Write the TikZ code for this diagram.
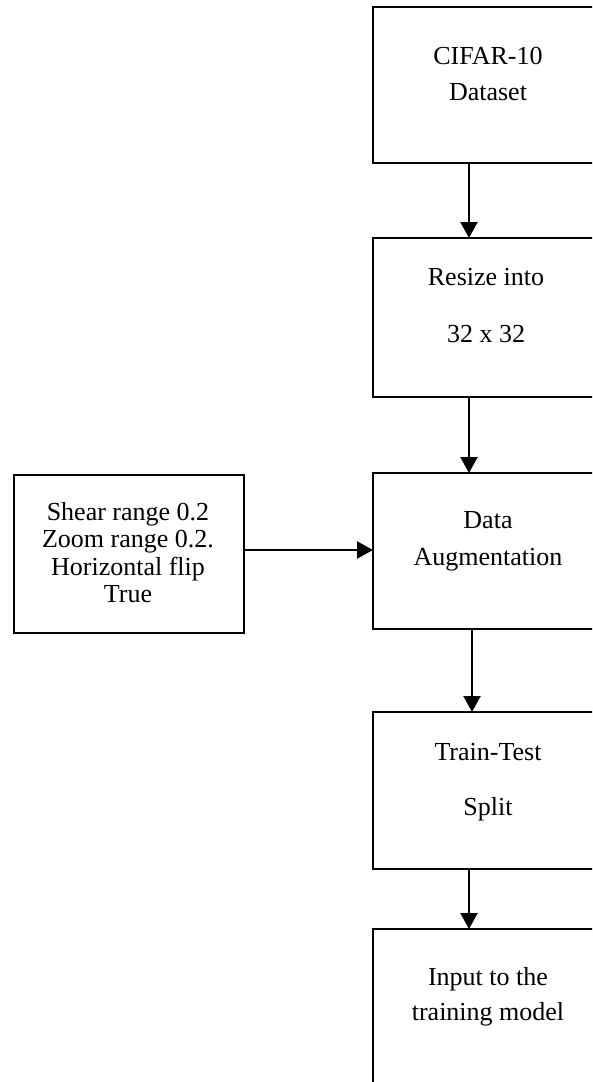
\documentclass[tikz,border=0pt]{standalone}
\usepackage{fontspec}
\setmainfont{Liberation Serif}
\usetikzlibrary{arrows.meta}
\begin{document}
\begin{tikzpicture}[x=1pt,y=-1pt,
  box/.style={draw, line width=2.2pt, rectangle, inner sep=0pt, outer sep=0pt},
  lbl/.style={font=\fontsize{26}{27}\selectfont, anchor=base, inner sep=0pt},
  arr/.style={line width=2.2pt, -{Triangle[length=16pt,width=17pt]}}]
\useasboundingbox (0,0) rectangle (592,1082);
\clip (0,0) rectangle (592,1082);
% boxes
\node[box, minimum width=232pt, minimum height=156pt] (b1) at (489,85) {};
\node[box, minimum width=232pt, minimum height=159pt] (b2) at (489,317.5) {};
\node[box, minimum width=232pt, minimum height=156pt] (b3) at (489,551) {};
\node[box, minimum width=232pt, minimum height=157pt] (b4) at (489,790.5) {};
\node[box, minimum width=232pt, minimum height=171pt] (b5) at (489,1014.5) {};
\node[box, minimum width=230pt, minimum height=158pt] (lb) at (129,554) {};
% texts
\node[lbl] (t1a) at (488,64) {CIFAR-10};
\node[lbl] (t1b) at (488,100) {Dataset};
\node[lbl] (t2a) at (486,285) {Resize into};
\node[lbl] (t2b) at (486,342) {32 x 32};
\node[lbl] (t3a) at (488,528) {Data};
\node[lbl] (t3b) at (488,565) {Augmentation};
\node[lbl] (t4a) at (488,760) {Train-Test};
\node[lbl] (t4b) at (488,815) {Split};
\node[lbl] (t5a) at (488,985) {Input to the};
\node[lbl] (t5b) at (488,1020) {training model};
\node[lbl] (l1) at (128,520) {Shear range 0.2};
\node[lbl] (l2) at (128,547) {Zoom range 0.2.};
\node[lbl] (l3) at (128,575) {Horizontal flip};
\node[lbl] (l4) at (128,602) {True};
% connectors
\draw[arr] ([xshift=96pt]b1.south west) -- ([xshift=96pt]b2.north west);
\draw[arr] ([xshift=96pt]b2.south west) -- ([xshift=96pt]b3.north west);
\draw[arr] ([xshift=99pt]b3.south west) -- ([xshift=99pt]b4.north west);
\draw[arr] ([xshift=96pt]b4.south west) -- ([xshift=96pt]b5.north west);
\coordinate (h) at ([yshift=4pt]lb.east);
\draw[arr] (h) -- (h -| b3.west);
\end{tikzpicture}
\end{document}
